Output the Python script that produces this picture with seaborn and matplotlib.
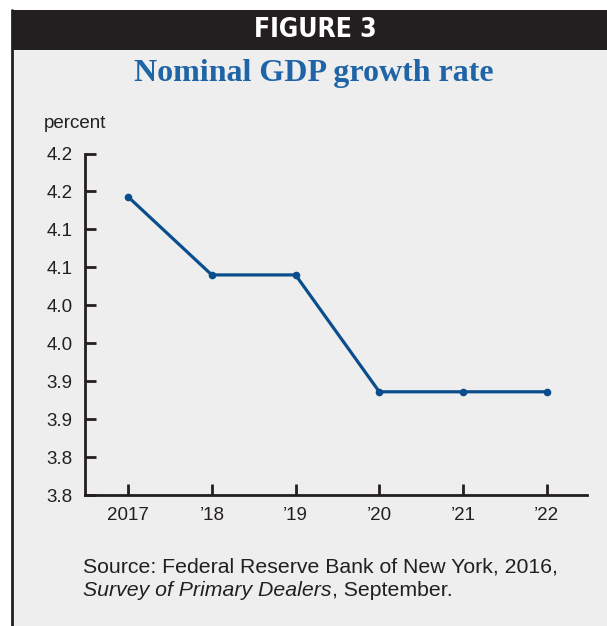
import matplotlib
matplotlib.use("Agg")
import matplotlib.pyplot as plt
import matplotlib.patches as mpatches
import matplotlib.lines as mlines
import seaborn as sns
import pandas as pd

years = [2017, 2018, 2019, 2020, 2021, 2022]
year_labels = ["2017", "\u201918", "\u201919", "\u201920", "\u201921", "\u201922"]
growth = [4.143, 4.040, 4.040, 3.886, 3.886, 3.886]
ytick_values = [3.75, 3.80, 3.85, 3.90, 3.95, 4.00, 4.05, 4.10, 4.15, 4.20]
ytick_labels = ["3.8", "3.8", "3.9", "3.9", "4.0", "4.0", "4.1", "4.1", "4.2", "4.2"]

df = pd.DataFrame({"year": years, "growth": growth})

sns.set_theme(style="white")
plt.rcParams["font.family"] = ["Liberation Sans", "DejaVu Sans"]

W, H = 607, 626
fig = plt.figure(figsize=(W / 100, H / 100), dpi=100)
fig.patch.set_facecolor("white")

bg = "#eeeeee"
dark = "#231f20"
# panel background
fig.add_artist(mpatches.Rectangle((12 / W, 0), 1 - 12 / W, 1 - 10 / H,
                                  transform=fig.transFigure, facecolor=bg,
                                  edgecolor="none", zorder=0))
# header bar
fig.add_artist(mpatches.Rectangle((12 / W, 1 - 50 / H), 1 - 12 / W, 40 / H,
                                  transform=fig.transFigure, facecolor=dark,
                                  edgecolor="none", zorder=1))
# left border line
fig.add_artist(mlines.Line2D([12.5 / W, 12.5 / W], [0, 1 - 10 / H],
                             transform=fig.transFigure, color=dark, lw=2, zorder=2))

fig.text(315 / W, 1 - 30 / H, "FIGURE 3", color="white", ha="center", va="center",
         fontsize=19, fontweight="heavy", family="DejaVu Sans", fontstretch="condensed", zorder=3)
fig.text(314 / W, 1 - 74 / H, "Nominal GDP growth rate", color="#1f64a6",
         ha="center", va="center", fontsize=23, fontweight="bold",
         family="Liberation Serif")
fig.text(44 / W, 1 - 124 / H, "percent", ha="left", va="center", fontsize=13.5,
         color=dark)

ax = fig.add_axes([84.5 / W, 1 - 495 / H, (587 - 84.5) / W, (495 - 153.5) / H])
ax.set_facecolor(bg)
sns.lineplot(data=df, x="year", y="growth", ax=ax, color="#0a4d8c", lw=2.3,
             marker="o", markersize=5.5, markeredgewidth=0)

ax.set_xlim(2016.48, 2022.48)
ax.set_ylim(3.75, 4.20)
ax.set_xticks(years)
ax.set_xticklabels(year_labels)
ax.set_yticks(ytick_values)
ax.set_yticklabels(ytick_labels)
ax.set_xlabel("")
ax.set_ylabel("")
for s in ["top", "right"]:
    ax.spines[s].set_visible(False)
for s in ["left", "bottom"]:
    ax.spines[s].set_color(dark)
    ax.spines[s].set_linewidth(2)
ax.tick_params(axis="both", direction="in", length=8, width=2, color=dark,
               labelsize=13.5, labelcolor=dark)
ax.tick_params(axis="y", pad=8.5)
ax.tick_params(axis="x", pad=8.5)
ax.tick_params(left=True, bottom=True)

fig.text(83 / W, 1 - 567 / H, "Source: Federal Reserve Bank of New York, 2016,",
         ha="left", va="center", fontsize=15.3, color=dark)
t1 = fig.text(83 / W, 1 - 591 / H, "Survey of Primary Dealers", ha="left", va="center",
              fontsize=15.3, color=dark, style="italic")
fig.canvas.draw()
bb = t1.get_window_extent()
fig.text(bb.x1 / W, 1 - 591 / H, ", September.", ha="left", va="center",
         fontsize=15.3, color=dark)

fig.savefig("out.png", dpi=100, facecolor=fig.get_facecolor())
